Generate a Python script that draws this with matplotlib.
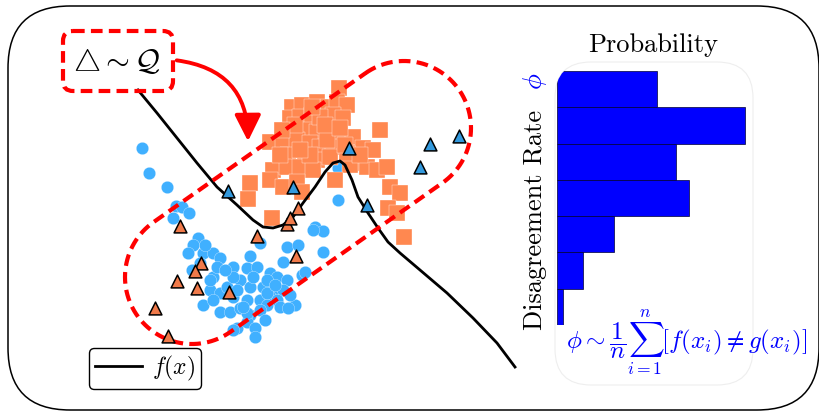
import numpy as np
import matplotlib
matplotlib.use("Agg")
import matplotlib.pyplot as plt
from matplotlib.patches import FancyBboxPatch, FancyArrowPatch, Polygon

plt.rcParams['font.family'] = 'serif'
plt.rcParams['font.serif'] = ['cmr10', 'DejaVu Serif']
plt.rcParams['mathtext.fontset'] = 'cm'
plt.rcParams['axes.formatter.use_mathtext'] = True

# --- data (pixel-like units, y grows downward) ---
blue_x = [142, 149, 167, 176, 182, 189, 173, 338, 338, 315, 323, 313, 323, 287, 298,
          283, 302, 305, 295, 260, 250, 198, 193, 188, 203, 213, 220, 192, 213, 233,
          247, 257, 270, 277, 287, 240, 250, 263, 273, 283, 210, 220, 233, 247, 260,
          270, 277, 203, 213, 220, 230, 240, 250, 267, 280, 288, 237, 247, 255, 255,
          233, 227, 253, 233, 267, 217, 200, 247, 267, 205, 225, 237, 260, 243, 275,
          210, 290, 265]
blue_y = [148, 173, 187, 206, 207, 213, 218, 168, 200, 227, 231, 230, 252, 247, 245,
          262, 275, 272, 305, 243, 256, 238, 245, 253, 253, 253, 258, 270, 277, 267,
          268, 267, 273, 277, 280, 280, 287, 287, 290, 290, 290, 293, 297, 300, 300,
          297, 300, 305, 300, 312, 312, 308, 315, 305, 307, 308, 328, 322, 328, 337,
          330, 287, 277, 277, 280, 267, 263, 313, 293, 245, 270, 290, 310, 307, 285,
          280, 295, 320]

orange_x = [339, 292, 302, 317, 328, 337, 347, 290, 300, 312, 322, 333, 343, 380, 307,
            317, 328, 340, 353, 270, 283, 297, 310, 320, 333, 363, 373, 288, 305, 317,
            330, 357, 367, 377, 387, 273, 287, 300, 313, 350, 270, 283, 297, 302, 250,
            248, 390, 400, 388, 397, 404, 272, 320, 327, 347, 310, 295, 325, 300, 340,
            312, 360, 345, 282, 335, 280]
orange_y = [88, 107, 105, 102, 107, 102, 105, 118, 117, 115, 118, 115, 118, 130, 130,
            132, 132, 137, 137, 142, 143, 140, 143, 147, 147, 148, 150, 155, 157, 160,
            157, 163, 167, 170, 167, 170, 167, 167, 170, 165, 180, 187, 182, 192, 183,
            199, 187, 193, 208, 213, 237, 218, 117, 140, 153, 155, 125, 125, 150, 128,
            107, 155, 145, 130, 180, 155]

tri_blue_x = [228, 293, 349, 367, 420, 430, 459]
tri_blue_y = [191, 187, 148, 205, 167, 144, 136]

tri_orange_x = [180, 257, 287, 290, 298, 296, 201, 195, 177, 197, 229, 155, 168]
tri_orange_y = [226, 236, 224, 218, 208, 256, 263, 271, 281, 288, 292, 308, 336]

f_x = [138, 157, 177, 197, 217, 237, 253, 263, 273, 283, 293, 303, 315, 325, 333,
       340, 345, 352, 358, 368, 378, 388, 400, 420, 447, 473, 497, 515]
f_y = [90, 113, 138, 163, 187, 205, 220, 227, 228, 225, 217, 203, 187, 172, 163,
       161, 165, 180, 197, 213, 228, 242, 253, 270, 293, 318, 343, 367]

# histogram of disagreement rate (top bin first)
prob = [0.159, 0.299, 0.190, 0.210, 0.091, 0.041, 0.010]

fig = plt.figure(figsize=(8.2, 4.11), dpi=100)
ax = fig.add_axes([0, 0, 1, 1])
ax.set_xlim(0, 820)
ax.set_ylim(411, 0)
ax.axis('off')

# outer rounded frame
ax.add_patch(FancyBboxPatch((8, 6), 811, 404, boxstyle="round,pad=0,rounding_size=62",
                            fc='white', ec='black', lw=1.1, zorder=0))

# scatter clouds
ax.scatter(blue_x, blue_y, s=80, c='#40b0ff', edgecolors='white', linewidths=0.2, zorder=2)
ax.scatter(orange_x, orange_y, s=130, marker='s', c='#ff8850', edgecolors='white',
           linewidths=0.25, zorder=2)

# f(x)
line, = ax.plot(f_x, f_y, color='black', lw=2.0, zorder=3)

# stadium-shaped region
c1 = np.array([192.0, 277.0])
c2 = np.array([404.0, 128.0])
r = 67.0
u = (c2 - c1) / np.linalg.norm(c2 - c1)
a0 = np.arctan2(u[1], u[0])
t1 = np.linspace(a0 - np.pi / 2, a0 + np.pi / 2, 60)
t2 = np.linspace(a0 + np.pi / 2, a0 + 3 * np.pi / 2, 60)
pts = np.vstack([np.column_stack([c2[0] + r * np.cos(t1), c2[1] + r * np.sin(t1)]),
                 np.column_stack([c1[0] + r * np.cos(t2), c1[1] + r * np.sin(t2)])])
ax.add_patch(Polygon(pts, closed=True, fill=False, ec='red', lw=3.0,
                     ls=(0, (2.8, 1.5)), zorder=4))

# triangles
ax.scatter(tri_blue_x, tri_blue_y, s=85, marker='^', c='#3399dd', edgecolors='black',
           linewidths=1.1, zorder=5)
ax.scatter(tri_orange_x, tri_orange_y, s=85, marker='^', c='#f07a4a', edgecolors='black',
           linewidths=1.1, zorder=5)

# sampling box and arrow
ax.add_patch(FancyBboxPatch((63, 31), 110, 60, boxstyle="round,pad=0,rounding_size=10",
                            fill=False, ec='red', lw=3.0, ls=(0, (2.8, 1.5)), zorder=4))
ax.text(117, 62, r'$\bigtriangleup \sim \mathcal{Q}$', fontsize=22, ha='center',
        va='center', zorder=6)
ax.add_patch(FancyArrowPatch((174, 60), (248, 144), connectionstyle='arc3,rad=-0.45',
                             arrowstyle='-|>,head_length=0.8,head_width=0.4',
                             mutation_scale=20, color='red', lw=2.8, zorder=6))

ax.legend([line], [r'$f(x)$'], loc='lower left', bbox_to_anchor=(89 / 820, 1 - 389 / 411),
          bbox_transform=fig.transFigure, borderaxespad=0, fontsize=17, handlelength=2.0,
          fancybox=True, framealpha=1, edgecolor='black', borderpad=0.25, handletextpad=0.4)
ax.get_legend().get_frame().set_linewidth(1.0)

# right panel: histogram
hist_box = FancyBboxPatch((555, 62), 198, 323, boxstyle="round,pad=0,rounding_size=36",
                          fc='white', ec='#eeeeee', lw=0.8, zorder=1)
ax.add_patch(hist_box)

hax = fig.add_axes([557 / 820, 1 - 325 / 411, 196 / 820, 254 / 411])
hax.patch.set_alpha(0)
bins = np.arange(len(prob))[::-1] + 0.5
bars = hax.barh(bins, prob, height=1.0, color='#0000ff', edgecolor='#000033', linewidth=0.5)
for b in bars:
    b.set_clip_path(hist_box)
hax.set_xlim(0, 196 / 628)
hax.set_ylim(0, len(prob))
hax.axis('off')

ax.text(653, 45, 'Probability', fontsize=19, ha='center', va='center')
ax.text(535, 330, 'Disagreement Rate', fontsize=19, rotation=90, rotation_mode='anchor',
        ha='left', va='center')
ax.text(535, 81, r'$\phi$', fontsize=19, color='#0000ff', rotation=90,
        rotation_mode='anchor', ha='center', va='center')
ax.text(566, 343, r'$\phi \sim \dfrac{1}{n}\sum_{i=1}^{n}[f(x_i) \neq g(x_i)]$',
        fontsize=18, color='#0000ff', ha='left', va='center')

fig.savefig('out.png', dpi=100)
